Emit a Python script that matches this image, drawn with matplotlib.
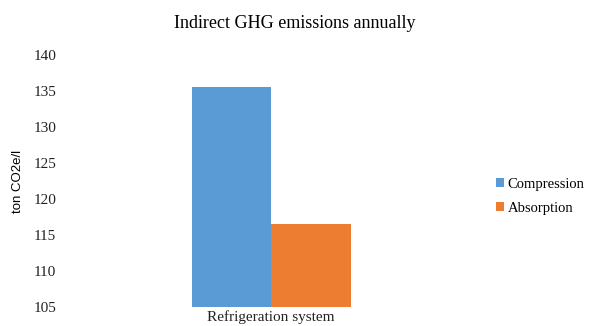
import numpy as np
import matplotlib.pyplot as plt

# Datos del grafico
categorias = ["Refrigeration system"]
series = ["Compression", "Absorption"]
valores = [135.5, 116.6]
colores = ["#5b9bd5", "#ed7d31"]
ticks_y = [105, 110, 115, 120, 125, 130, 135, 140]

plt.rcParams['font.family'] = ['Liberation Serif', 'DejaVu Serif']

fig = plt.figure(figsize=[5.9, 3.26], dpi=100)
ax = fig.add_axes([0.105, 0.058, 0.709, 0.773])

ancho = 0.19
x = np.arange(len(categorias))
for i, (nombre, val, col) in enumerate(zip(series, valores, colores)):
    ax.bar(x + (i - 0.5) * ancho, [val], ancho, color=col, label=nombre)

ax.set_xlim(-0.5, 0.5)
ax.set_ylim(min(ticks_y), max(ticks_y))
ax.set_yticks(ticks_y)
ax.set_xticks(x)
ax.set_xticklabels(categorias, fontsize=11)
ax.tick_params(axis='both', length=0, labelsize=11, colors='#222222')
ax.tick_params(axis='y', pad=4)
ax.tick_params(axis='x', pad=2)
for s in ax.spines.values():
    s.set_visible(False)

ax.set_ylabel("ton CO2e/l", family=['Liberation Sans'], fontsize=9.5, labelpad=7)
fig.text(0.5, 0.915, "Indirect GHG emissions annually", ha='center', fontsize=13)

leg = ax.legend(loc='center left', bbox_to_anchor=(1.02, 0.44), frameon=False,
                fontsize=10.5, handlelength=0.55, handleheight=0.55, handletextpad=0.25,
                labelspacing=0.75, borderaxespad=0.1)

fig.savefig("out.png", dpi=100)
